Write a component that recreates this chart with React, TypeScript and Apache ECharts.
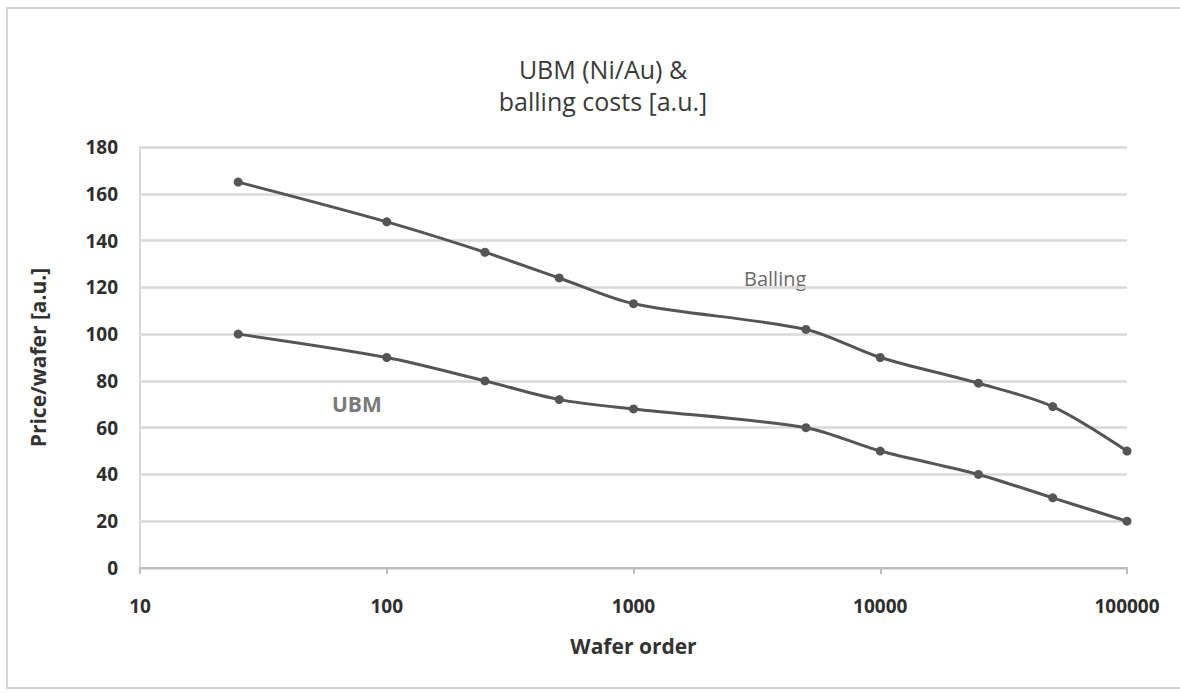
import React, { useEffect, useRef } from "react";
import * as echarts from "echarts";

const wafers = [25, 100, 250, 500, 1000, 5000, 10000, 25000, 50000, 100000];
const ballingCost = [165, 148, 135, 124, 113, 102, 90, 79, 69, 50];
const ubmCost = [100, 90, 80, 72, 68, 60, 50, 40, 30, 20];
const titleText = "UBM (Ni/Au) &\nballing costs [a.u.]";
const xName = "Wafer order";
const yName = "Price/wafer [a.u.]";

const FONT = "Open Sans";
const LINE = "#555555";

export default function App() {
  const ref = useRef<HTMLDivElement>(null);
  useEffect(() => {
    const chart = echarts.init(ref.current!, null, { renderer: "svg" });
    const mk = (name: string, vals: number[]) => ({
      name,
      type: "line",
      smooth: 0.3,
      data: wafers.map((w, i) => [w, vals[i]]),
      symbol: "circle",
      symbolSize: 9,
      itemStyle: { color: LINE },
      lineStyle: { color: LINE, width: 3 },
    });
    chart.setOption({
      animation: false,
      backgroundColor: "#ffffff",
      title: {
        text: titleText,
        left: 598,
        textAlign: "center",
        top: 48,
        textStyle: {
          fontFamily: FONT,
          fontSize: 25,
          fontWeight: "normal",
          color: "#3a3a3a",
          lineHeight: 32,
        },
      },
      grid: { left: 140, right: 53, top: 147, bottom: 125 },
      xAxis: {
        type: "log",
        logBase: 10,
        min: 10,
        max: 100000,
        name: xName,
        nameLocation: "middle",
        nameGap: 67,
        nameTextStyle: { fontFamily: FONT, fontSize: 21, fontWeight: "bold", color: "#333" },
        axisLine: { show: true, lineStyle: { color: "#bdbdbd", width: 2 } },
        axisTick: { show: true, length: 6, lineStyle: { color: "#bdbdbd", width: 2 } },
        axisLabel: {
          fontFamily: FONT,
          fontSize: 19,
          fontWeight: "bold",
          color: "#2e2e2e",
          margin: 28,
          formatter: (v: number) => String(Math.round(v)),
        },
        splitLine: { show: false },
        minorTick: { show: false },
      },
      yAxis: {
        type: "value",
        min: 0,
        max: 180,
        interval: 20,
        name: yName,
        nameLocation: "middle",
        nameGap: 92,
        nameTextStyle: { fontFamily: FONT, fontSize: 21, fontWeight: "bold", color: "#333" },
        axisLine: { show: true, lineStyle: { color: "#d9d9d9", width: 2 } },
        axisTick: { show: false },
        axisLabel: { fontFamily: FONT, fontSize: 19, fontWeight: "bold", color: "#2e2e2e", margin: 22 },
        splitLine: { show: true, lineStyle: { color: "#d9d9d9", width: 2.5 } },
      },
      series: [mk("Balling", ballingCost), mk("UBM", ubmCost)],
      graphic: [
        {
          type: "rect",
          shape: { x: 7, y: 8, width: 1190, height: 680 },
          style: { fill: "none", stroke: "#d4d4d4", lineWidth: 2 },
          silent: true,
        },
        {
          type: "text",
          left: 744,
          top: 268,
          style: { text: "Balling", fontFamily: FONT, fontSize: 20, fill: "#6a6a6a" },
        },
        {
          type: "text",
          left: 332,
          top: 393,
          style: { text: "UBM", fontFamily: FONT, fontSize: 21, fontWeight: "bold", fill: "#7a7a7a" },
        },
      ],
    });
    return () => chart.dispose();
  }, []);
  return (
    <div
      ref={ref}
      style={{ position: "absolute", left: 0, top: 0, width: 1180, height: 693 }}
    />
  );
}
